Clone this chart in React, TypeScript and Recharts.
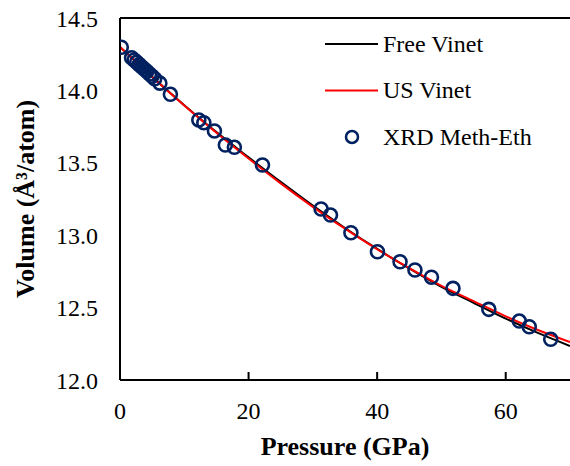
import React from 'react';
import { ComposedChart, Line, Scatter, XAxis, YAxis, ReferenceLine, Legend } from 'recharts';

const curvePressure = [0, 5, 10, 15, 20, 25, 30, 35, 40, 45, 50, 55, 60, 65, 70];
const freeVinet = [14.300, 14.094, 13.898, 13.712, 13.538, 13.368, 13.204, 13.050, 12.905, 12.770, 12.643, 12.533, 12.424, 12.325, 12.235];
const usVinet = [14.300, 14.093, 13.896, 13.708, 13.530, 13.358, 13.196, 13.045, 12.903, 12.772, 12.650, 12.545, 12.440, 12.345, 12.262];

const xrdPressure = [0.2, 1.8, 2.2, 2.6, 3.0, 3.4, 3.8, 4.2, 4.6, 5.0, 5.4, 6.2, 7.84, 12.26, 13.04, 14.69, 16.39, 17.79, 22.16, 31.28, 32.74, 35.92, 40.05, 43.56, 45.88, 48.45, 51.8, 57.37, 62.11, 63.66, 67.0];
const xrdVolume = [14.298, 14.225, 14.21, 14.195, 14.178, 14.162, 14.146, 14.13, 14.113, 14.097, 14.08, 14.05, 13.973, 13.796, 13.777, 13.72, 13.623, 13.607, 13.485, 13.181, 13.139, 13.017, 12.886, 12.817, 12.76, 12.71, 12.633, 12.488, 12.407, 12.368, 12.281];

const xTicks = [0, 20, 40, 60];
const yTicks = [12.0, 12.5, 13.0, 13.5, 14.0, 14.5];

const seriesNames = ['Free Vinet', 'US Vinet', 'XRD Meth-Eth'];
const NAVY = '#002060';
const FONT = 'Liberation Serif, Times New Roman, serif';

const freeData = curvePressure.map((p, i) => ({ p, v: freeVinet[i] }));
const usData = curvePressure.map((p, i) => ({ p, v: usVinet[i] }));
const xrdData = xrdPressure.map((p, i) => ({ p, v: xrdVolume[i] }));

const renderLegend = () => (
  <svg width={250} height={140} style={{ display: 'block' }}>
    {seriesNames.map((name, i) => {
      const cy = 24 + i * 46.5;
      return (
        <g key={name}>
          {i < 2 ? (
            <line x1={10} x2={63} y1={cy} y2={cy} stroke={i === 0 ? '#000' : '#ff0000'} strokeWidth={2} />
          ) : (
            <circle cx={37} cy={cy} r={6} fill="none" stroke={NAVY} strokeWidth={2.5} />
          )}
          <text x={68} y={cy} dy="0.33em" style={{ fontSize: 24, fontFamily: FONT, fill: '#000' }}>{name}</text>
        </g>
      );
    })}
  </svg>
);

const Dot = (props: any) => {
  const { cx, cy } = props;
  return <circle cx={cx} cy={cy} r={6.5} fill="none" stroke={NAVY} strokeWidth={2.6} />;
};

const tickStyle = { fill: '#000', fontSize: 24, fontFamily: FONT, style: { fontFamily: FONT } };

export default function App() {
  return (
    <div style={{ position: 'absolute', left: 0, top: 0, width: 570, height: 466, background: '#fff', fontFamily: FONT }}>
      <ComposedChart width={570} height={466} margin={{ top: 18, right: 0, left: 0, bottom: 0 }} style={{ fontFamily: FONT }}>
        <XAxis
          type="number"
          dataKey="p"
          domain={[0, 70]}
          ticks={xTicks}
          allowDataOverflow
          height={86}
          axisLine={{ stroke: '#000', strokeWidth: 2 }}
          tickLine={{ stroke: '#000', strokeWidth: 2 }}
          tickSize={-8}
          tickMargin={30}
          tick={tickStyle}
          label={{ value: 'Pressure (GPa)', position: 'center', dy: 23, style: { fill: '#000', fontSize: 26, fontWeight: 'bold', fontFamily: FONT } }}
        />
        <YAxis
          type="number"
          dataKey="v"
          domain={[12, 14.5]}
          ticks={yTicks}
          width={120}
          allowDataOverflow
          axisLine={{ stroke: '#000', strokeWidth: 2 }}
          tickLine={false}
          tickSize={0}
          tickMargin={22}
          tickFormatter={(v: number) => v.toFixed(1)}
          tick={tickStyle}
          label={{ value: 'Volume (Å³/atom)', angle: -90, position: 'center', dx: -35, style: { fill: '#000', fontSize: 26, fontWeight: 'bold', fontFamily: FONT, textAnchor: 'middle' } }}
        />
        <ReferenceLine y={14.5} stroke="#000" strokeWidth={2} />
        <Line data={freeData} dataKey="v" type="monotone" stroke="#000" strokeWidth={2} dot={false} isAnimationActive={false} name={seriesNames[0]} />
        <Line data={usData} dataKey="v" type="monotone" stroke="#ff0000" strokeWidth={2} dot={false} isAnimationActive={false} name={seriesNames[1]} />
        <Scatter data={xrdData} dataKey="v" shape={<Dot />} isAnimationActive={false} name={seriesNames[2]} />
        <Legend layout="vertical" align="center" verticalAlign="middle" wrapperStyle={{ left: 315, top: 20, width: 250 }} content={renderLegend} />
      </ComposedChart>
    </div>
  );
}
